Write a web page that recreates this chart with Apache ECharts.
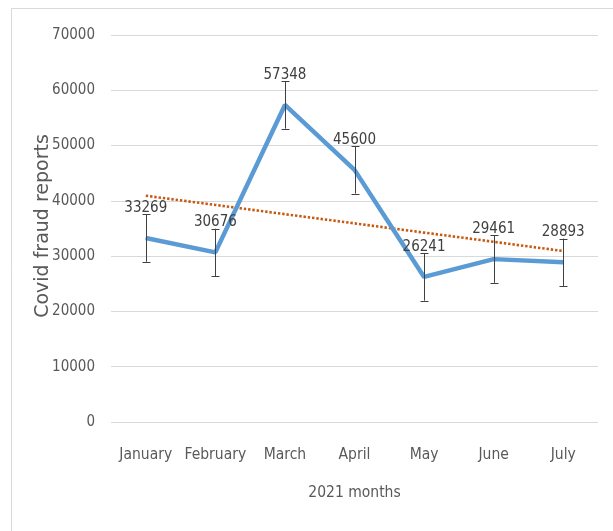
<!DOCTYPE html>
<html>
<head>
<meta charset="utf-8">
<script src="https://cdn.jsdelivr.net/npm/echarts@6/dist/echarts.min.js"></script>
<style>html,body{margin:0;padding:0;background:#fff;}#c{width:613px;height:531px;}</style>
</head>
<body>
<div id="c"></div>
<script>
var months = ['January','February','March','April','May','June','July'];
var reports = [33269, 30676, 57348, 45600, 26241, 29461, 28893];
var errors = [4288, 4288, 4288, 4288, 4288, 4288, 4288];
var trend = [40927, 39260, 37594, 35927, 34260, 32594, 30927];
var yTicks = [0, 10000, 20000, 30000, 40000, 50000, 60000, 70000];
var yTitle = 'Covid fraud reports';
var xTitle = '2021 months';

var narrow = '"Liberation Sans Narrow", "DejaVu Sans Condensed", "Roboto Condensed", sans-serif';
var chart = echarts.init(document.getElementById('c'), null, {renderer: 'canvas'});
var errData = months.map(function (m, i) { return [i, reports[i] - errors[i], reports[i] + errors[i]]; });

chart.setOption({
  animation: false,
  graphic: [{
    type: 'rect', shape: {x: 11.5, y: 8.5, width: 700, height: 600},
    style: {fill: 'none', stroke: '#d9d9d9', lineWidth: 1}, z: -10
  }, {
    type: 'text', x: 43, y: 226, rotation: Math.PI / 2,
    style: {text: yTitle, fill: '#595959', font: '19px "DejaVu Sans", sans-serif',
      align: 'center', verticalAlign: 'middle'}
  }],
  grid: {left: 111, right: 15, top: 35, bottom: 109},
  xAxis: {
    type: 'category', data: months, boundaryGap: true,
    axisLine: {show: false}, axisTick: {show: false},
    axisLabel: {color: '#595959', fontFamily: narrow, fontSize: 15.5, margin: 25, interval: 0},
    name: xTitle, nameLocation: 'middle', nameGap: 63,
    nameTextStyle: {color: '#595959', fontFamily: narrow, fontSize: 15.5}
  },
  yAxis: {
    type: 'value', min: yTicks[0], max: yTicks[yTicks.length - 1], interval: 10000,
    axisLine: {show: false}, axisTick: {show: false},
    splitLine: {lineStyle: {color: '#d9d9d9', width: 1}},
    axisLabel: {color: '#595959', fontFamily: narrow, fontSize: 15, margin: 16,
      formatter: function (v) { return String(v); }}
  },
  series: [
    {
      type: 'line', data: trend, symbol: 'none', z: 2,
      lineStyle: {color: '#C55A11', width: 2.6, type: [2.4, 1.9], cap: 'butt'}
    },
    {
      type: 'line', data: reports, symbol: 'circle', symbolSize: 1, z: 3,
      itemStyle: {color: '#5B9BD5', borderWidth: 0},
      lineStyle: {color: '#5B9BD5', width: 4.5},
      label: {show: true, position: 'top', distance: 22, color: '#404040', fontFamily: narrow, fontSize: 15}
    },
    {
      type: 'custom', data: errData, z: 4,
      renderItem: function (params, api) {
        var x = api.value(0);
        var lo = api.coord([x, api.value(1)]);
        var hi = api.coord([x, api.value(2)]);
        var st = {stroke: '#404040', lineWidth: 1};
        var cx = Math.round(lo[0]) + 0.5;
        return {type: 'group', children: [
          {type: 'line', shape: {x1: cx, y1: hi[1], x2: cx, y2: lo[1]}, style: st},
          {type: 'line', shape: {x1: cx - 4, y1: Math.round(hi[1]) + 0.5, x2: cx + 4, y2: Math.round(hi[1]) + 0.5}, style: st},
          {type: 'line', shape: {x1: cx - 4, y1: Math.round(lo[1]) + 0.5, x2: cx + 4, y2: Math.round(lo[1]) + 0.5}, style: st}
        ]};
      }
    }
  ]
});
</script>
</body>
</html>
